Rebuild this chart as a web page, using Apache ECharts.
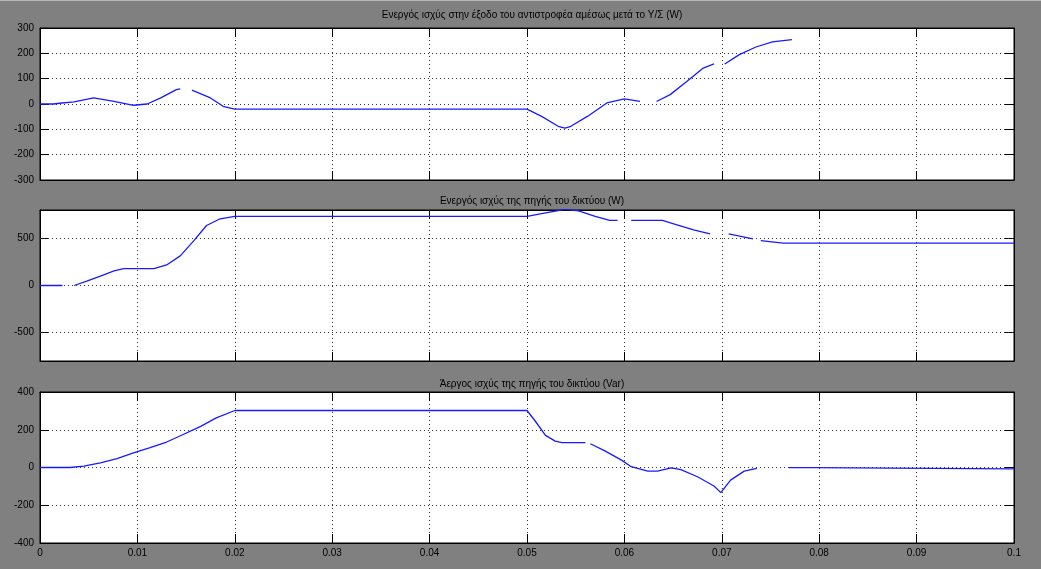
<!DOCTYPE html>
<html><head><meta charset="utf-8">
<script src="https://cdn.jsdelivr.net/npm/echarts@6/dist/echarts.min.js"></script>
<style>html,body{margin:0;padding:0;background:#808080;overflow:hidden}#c{width:1041px;height:569px;border-top:1px solid #b8b8b8;box-sizing:border-box}</style>
</head><body><div id="c"></div>
<script>
const titles = [
  'Ενεργός ισχύς στην έξοδο του αντιστροφέα αμέσως μετά το Υ/Σ (W)',
  'Ενεργός ισχύς της πηγής του δικτύου (W)',
  'Άεργος ισχύς της πηγής του δικτύου (Var)'
];
const xTickLabels = ['0','0.01','0.02','0.03','0.04','0.05','0.06','0.07','0.08','0.09','0.1'];
const yTicks2 = [-500, 0, 500];

// Panel 1: active power at inverter output (W)
const tInv = [0, 0.0014, 0.0020, 0.0035, 0.0055, 0.0076, 0.0096, 0.011, 0.0124, 0.014, 0.0144, 0.0150, 0.0156, 0.0158, 0.0175, 0.0188, 0.02, 0.05, 0.0515, 0.0532, 0.0539, 0.0545, 0.0562, 0.0582, 0.06, 0.0616, 0.0624, 0.0633, 0.0647, 0.0664, 0.0681, 0.0692, 0.0697, 0.0703, 0.0718, 0.0735, 0.0752, 0.0772];
const pInv = [0, 0, 3, 8, 24, 10, -5, 0, 24, 57, 60, null, 55, 53, 24, -9, -20, -20, -49, -88, -95, -88, -49, 4, 20, 10, null, 10, 37, 89, 142, 158, null, 158, 195, 225, 245, 254];

// Panel 2: active power of grid source (W)
const tGrid = [0, 0.0023, 0.0029, 0.0035, 0.0048, 0.0062, 0.0076, 0.0086, 0.0117, 0.013, 0.0144, 0.0158, 0.0171, 0.0185, 0.02, 0.05, 0.0515, 0.0539, 0.0553, 0.057, 0.0585, 0.0593, 0.06, 0.0607, 0.0639, 0.0654, 0.0671, 0.0688, 0.0697, 0.0707, 0.0732, 0.0736, 0.074, 0.0763, 0.1];
const pGrid = [0, 0, null, 0, 46, 100, 154, 179, 179, 218, 314, 475, 636, 707, 732, 732, 761, 807, 790, 732, 690, 690, null, 690, 690, 643, 590, 546, null, 546, 493, null, 475, 450, 450];

// Panel 3: reactive power of grid source (Var)
const tQ = [0, 0.0031, 0.0045, 0.0062, 0.0079, 0.0096, 0.0113, 0.013, 0.0147, 0.0165, 0.0181, 0.02, 0.05, 0.0508, 0.0519, 0.0529, 0.0536, 0.056, 0.0562, 0.0565, 0.058, 0.0597, 0.0607, 0.0624, 0.0634, 0.0648, 0.0658, 0.0675, 0.0692, 0.0699, 0.0709, 0.0723, 0.0736, 0.075, 0.0769, 0.0791, 0.0793, 0.1];
const qQ = [0, 0, 7, 25, 47, 77, 105, 135, 175, 218, 263, 302, 302, 249, 170, 140, 132, 132, null, 126, 88, 39, 4, -19, -19, -2, -11, -49, -98, -133, -67, -19, -5, null, -1, -1, -7, -7];

const pairs = (t, v) => t.map((x, i) => [x, v[i] === null ? '-' : v[i]]);

const FONT = 'Liberation Sans, Arial, sans-serif';
const gridLine = {show: true, lineStyle: {color: '#333', type: [1, 3], width: 1}};
const tick = {show: true, inside: true, length: 9, lineStyle: {color: '#000'}};
const aLine = {show: true, onZero: false, lineStyle: {color: '#000', width: 1}};
const lbl = {color: '#000', fontSize: 10, fontFamily: FONT};

const grids = [
  {left: 40, right: 27, top: 27, height: 152},
  {left: 40, right: 27, top: 209, height: 151},
  {left: 40, right: 27, top: 391, height: 151}
].map(g => Object.assign(g, {show: true, backgroundColor: '#fff', borderColor: '#000', borderWidth: 1}));

const xAxis = [];
const yAxis = [];
const yCfg = [
  {min: -300, max: 300, interval: 100},
  {min: -800, max: 800, custom: yTicks2},
  {min: -400, max: 400, interval: 200}
];
for (let i = 0; i < 3; i++) {
  xAxis.push({type: 'value', gridIndex: i, min: 0, max: 0.1, interval: 0.01, position: 'bottom',
    axisLine: aLine, axisTick: tick, splitLine: gridLine,
    axisLabel: Object.assign({show: i === 2, margin: 5, formatter: (v, idx) => xTickLabels[idx]}, lbl)});
  xAxis.push({type: 'value', gridIndex: i, min: 0, max: 0.1, interval: 0.01, position: 'top',
    axisLine: aLine, axisTick: tick, splitLine: {show: false}, axisLabel: {show: false}});
  const c = yCfg[i];
  const base = {type: 'value', gridIndex: i, min: c.min, max: c.max};
  if (c.interval) base.interval = c.interval;
  const left = Object.assign({}, base, {position: 'left', axisLine: aLine,
    axisTick: Object.assign({}, tick, c.custom ? {customValues: c.custom} : {}),
    splitLine: c.custom ? {show: false} : gridLine,
    axisLabel: Object.assign({margin: 6}, lbl, c.custom ? {customValues: c.custom} : {})});
  const right = Object.assign({}, base, {position: 'right', axisLine: aLine,
    axisTick: Object.assign({}, tick, c.custom ? {customValues: c.custom} : {}),
    splitLine: {show: false}, axisLabel: {show: false}});
  yAxis.push(left, right);
}

const lineStyle = {color: '#1a1aff', width: 1.3};
const mk = (xi, yi, data, extra) => Object.assign({
  type: 'line', xAxisIndex: xi, yAxisIndex: yi, data: data, showSymbol: false, symbol: 'none',
  connectNulls: false, lineStyle: lineStyle, itemStyle: {color: '#1a1aff'}, animation: false, z: 5
}, extra || {});

const series = [
  mk(0, 0, pairs(tInv, pInv)),
  mk(2, 2, pairs(tGrid, pGrid), {
    markLine: {silent: true, symbol: 'none', label: {show: false}, animation: false,
      lineStyle: {color: '#333', type: [1, 3], width: 1},
      data: yTicks2.map(v => ({yAxis: v}))}
  }),
  mk(4, 4, pairs(tQ, qQ))
];

const chart = echarts.init(document.getElementById('c'));
chart.setOption({
  backgroundColor: '#808080',
  animation: false,
  title: titles.map((t, i) => ({text: t, left: 527, textAlign: 'center', top: [4, 190, 373][i],
    textStyle: {color: '#000', fontSize: 10, fontWeight: 'normal', fontFamily: FONT}})),
  grid: grids,
  xAxis: xAxis,
  yAxis: yAxis,
  series: series
});
</script>
</body></html>
